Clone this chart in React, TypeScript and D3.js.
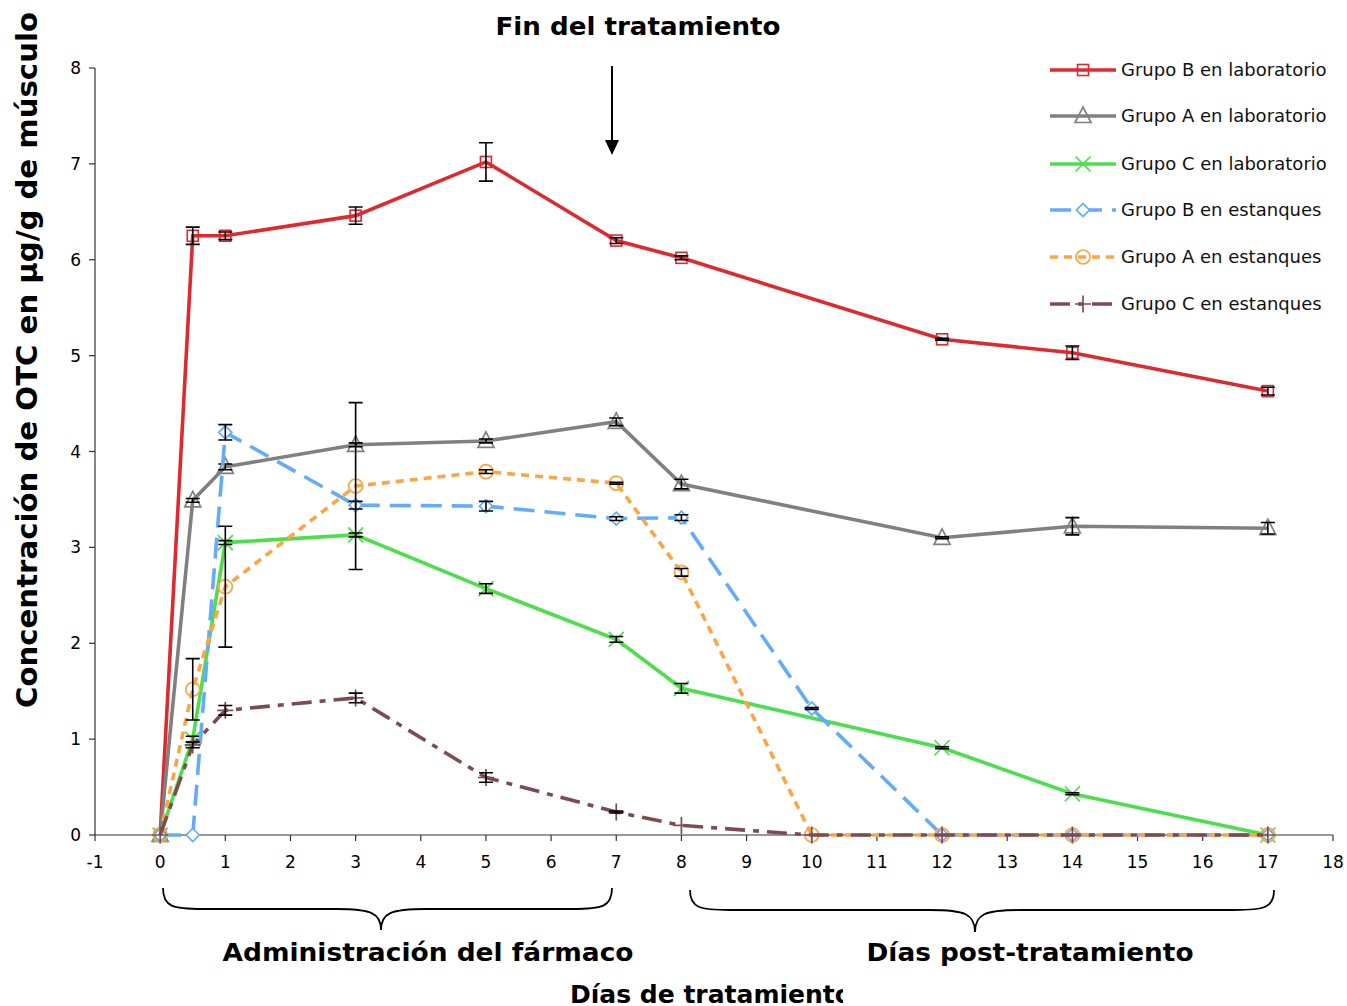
import * as d3 from "d3";
import { useEffect, useRef } from "react";

const days = [0, 0.5, 1, 3, 5, 7, 8, 10, 12, 14, 17];

const grupoBLab = [0, 6.25, 6.25, 6.46, 7.02, 6.2, 6.02, null, 5.17, 5.03, 4.63];
const grupoBLabErr = [0, 0.09, 0.04, 0.09, 0.2, 0.03, 0.02, null, 0.01, 0.07, 0.04];

const grupoALab = [0, 3.49, 3.84, 4.07, 4.11, 4.31, 3.66, null, 3.1, 3.22, 3.2];
const grupoALabErr = [0, 0.02, 0.03, 0.02, 0.02, 0.04, 0.05, null, 0.01, 0.09, 0.06];

const grupoCLab = [0, 1.0, 3.05, 3.13, 2.57, 2.04, 1.53, null, 0.91, 0.43, 0];
const grupoCLabErr = [0, 0.03, 0.02, 0.02, 0.05, 0.03, 0.05, null, 0.01, 0.01, 0];

const grupoBEst = [0, 0, 4.2, 3.44, 3.43, 3.3, 3.31, 1.32, 0, 0, 0];
const grupoBEstErr = [0, 0, 0.08, 0.04, 0.05, 0.02, 0.03, 0.01, 0, 0, 0];

const grupoAEst = [0, 1.52, 2.59, 3.64, 3.79, 3.67, 2.74, 0, 0, 0, 0];
const grupoAEstErr = [0, 0.32, 0.63, 0.87, 0.02, 0.01, 0.04, 0, 0, 0, 0];

const grupoCEst = [0, 0.94, 1.3, 1.43, 0.6, 0.24, 0.1, 0, 0, 0, 0];
const grupoCEstErr = [0, 0.03, 0.05, 0.05, 0.05, 0.01, 0, 0, 0, 0, 0];

const xTicks = d3.range(-1, 19);
const yTicks = d3.range(0, 9);

const series = [
  { name: "Grupo B en laboratorio", values: grupoBLab, err: grupoBLabErr, color: "#e0282f", dash: null, marker: "square" },
  { name: "Grupo A en laboratorio", values: grupoALab, err: grupoALabErr, color: "#808080", dash: null, marker: "triangle" },
  { name: "Grupo C en laboratorio", values: grupoCLab, err: grupoCLabErr, color: "#4cdf4c", dash: null, marker: "x" },
  { name: "Grupo B en estanques", values: grupoBEst, err: grupoBEstErr, color: "#62abff", dash: "21,10", marker: "diamond" },
  { name: "Grupo A en estanques", values: grupoAEst, err: grupoAEstErr, color: "#ffa442", dash: "8,6", marker: "circle" },
  { name: "Grupo C en estanques", values: grupoCEst, err: grupoCEstErr, color: "#7e4b50", dash: "20,8,6,8", marker: "plus" },
];

function drawMarker(g, type, cx, cy, color) {
  if (type === "square") {
    g.append("rect").attr("x", cx - 5.5).attr("y", cy - 5.5).attr("width", 11).attr("height", 11)
      .attr("fill", "none").attr("stroke", color).attr("stroke-width", 1.6);
  } else if (type === "triangle") {
    g.append("path").attr("d", `M${cx},${cy - 9}L${cx + 8},${cy + 6.5}L${cx - 8},${cy + 6.5}Z`)
      .attr("fill", "none").attr("stroke", color).attr("stroke-width", 1.7);
  } else if (type === "x") {
    g.append("path").attr("d", `M${cx - 7.5},${cy - 7.5}L${cx + 7.5},${cy + 7.5}M${cx + 7.5},${cy - 7.5}L${cx - 7.5},${cy + 7.5}`)
      .attr("stroke", color).attr("stroke-width", 1.7);
  } else if (type === "diamond") {
    g.append("path").attr("d", `M${cx},${cy - 6.5}L${cx + 6.5},${cy}L${cx},${cy + 6.5}L${cx - 6.5},${cy}Z`)
      .attr("fill", "white").attr("stroke", color).attr("stroke-width", 1.7);
  } else if (type === "circle") {
    g.append("circle").attr("cx", cx).attr("cy", cy).attr("r", 7)
      .attr("fill", "none").attr("stroke", color).attr("stroke-width", 1.7);
  } else if (type === "plus") {
    g.append("path").attr("d", `M${cx - 8},${cy}L${cx + 8},${cy}M${cx},${cy - 8.5}L${cx},${cy + 8.5}`)
      .attr("stroke", color).attr("stroke-width", 1.7);
  }
}

function bracePath(x0, x1, xc, y0, y1, y2) {
  return `M${x0},${y0} C${x0},${y1 - 2} ${x0 + 10},${y1} ${x0 + 40},${y1}` +
    ` L${xc - 45},${y1} C${xc - 10},${y1} ${xc},${y1 + 4} ${xc},${y2}` +
    ` C${xc},${y1 + 4} ${xc + 10},${y1} ${xc + 45},${y1}` +
    ` L${x1 - 40},${y1} C${x1 - 10},${y1} ${x1},${y1 - 2} ${x1},${y0}`;
}

export default function App() {
  const ref = useRef(null);

  useEffect(() => {
    const svg = d3.select(ref.current);
    svg.selectAll("*").remove();

    const font = "'DejaVu Sans', Verdana, sans-serif";
    const x = d3.scaleLinear().domain([-1, 18]).range([95, 1333]);
    const y = d3.scaleLinear().domain([0, 8]).range([835, 68]);

    // axes
    const axisColor = "#333";
    svg.append("line").attr("x1", x(-1)).attr("x2", x(18)).attr("y1", y(0)).attr("y2", y(0))
      .attr("stroke", axisColor).attr("stroke-width", 1.2);
    svg.append("line").attr("x1", x(-1)).attr("x2", x(-1)).attr("y1", y(0)).attr("y2", y(8))
      .attr("stroke", axisColor).attr("stroke-width", 1.2);

    xTicks.forEach((t) => {
      svg.append("line").attr("x1", x(t)).attr("x2", x(t)).attr("y1", y(0)).attr("y2", y(0) + 6)
        .attr("stroke", axisColor).attr("stroke-width", 1.2);
      svg.append("text").attr("x", x(t)).attr("y", 868).attr("text-anchor", "middle")
        .style("font-family", font).style("font-size", "17px").text(t);
    });
    yTicks.forEach((t) => {
      svg.append("line").attr("x1", x(-1) - 6).attr("x2", x(-1)).attr("y1", y(t)).attr("y2", y(t))
        .attr("stroke", axisColor).attr("stroke-width", 1.2);
      svg.append("text").attr("x", 81).attr("y", y(t) + 6).attr("text-anchor", "end")
        .style("font-family", font).style("font-size", "17px").text(t);
    });

    // series
    series.forEach((s) => {
      const pts = days.map((d, i) => ({ d, v: s.values[i], e: s.err[i] })).filter((p) => p.v !== null);
      const g = svg.append("g");
      const line = d3.line().x((p) => x(p.d)).y((p) => y(p.v));
      g.append("path").attr("d", line(pts)).attr("fill", "none")
        .attr("stroke", s.color).attr("stroke-width", 3.6)
        .attr("stroke-dasharray", s.dash);
      pts.forEach((p) => drawMarker(g, s.marker, x(p.d), y(p.v), s.color));
      pts.filter((p) => p.e > 0).forEach((p) => {
        const cx = x(p.d);
        const y1 = y(p.v + p.e);
        const y2 = y(p.v - p.e);
        g.append("path")
          .attr("d", `M${cx},${y1}L${cx},${y2}M${cx - 7},${y1}L${cx + 7},${y1}M${cx - 7},${y2}L${cx + 7},${y2}`)
          .attr("stroke", "#000").attr("stroke-width", 1.6).attr("fill", "none");
      });
    });

    // legend
    series.forEach((s, i) => {
      const ly = [70, 116, 164, 210, 257, 304][i];
      const g = svg.append("g");
      g.append("line").attr("x1", 1050).attr("x2", 1116).attr("y1", ly).attr("y2", ly)
        .attr("stroke", s.color).attr("stroke-width", 3.6).attr("stroke-dasharray", s.dash);
      drawMarker(g, s.marker, 1083, ly, s.color);
      g.append("text").attr("x", 1121).attr("y", ly + 6)
        .style("font-family", font).style("font-size", "18px").style("fill", "#111").text(s.name);
    });

    // arrow "Fin del tratamiento"
    svg.append("line").attr("x1", 612).attr("x2", 612).attr("y1", 66).attr("y2", 142)
      .attr("stroke", "#000").attr("stroke-width", 2);
    svg.append("path").attr("d", "M605,140L619,140L612,155Z").attr("fill", "#000");

    svg.append("text").attr("x", 638).attr("y", 35).attr("text-anchor", "middle")
      .attr("textLength", 285).attr("lengthAdjust", "spacingAndGlyphs")
      .style("font-family", font).style("font-size", "25px").style("font-weight", "bold")
      .text("Fin del tratamiento");

    // braces
    svg.append("path").attr("d", bracePath(163, 612, 381, 888, 909, 930))
      .attr("fill", "none").attr("stroke", "#000").attr("stroke-width", 1.8);
    svg.append("path").attr("d", bracePath(690, 1274, 975, 890, 910, 932))
      .attr("fill", "none").attr("stroke", "#000").attr("stroke-width", 1.8);

    svg.append("text").attr("x", 428).attr("y", 961).attr("text-anchor", "middle")
      .attr("textLength", 411).attr("lengthAdjust", "spacingAndGlyphs")
      .style("font-family", font).style("font-size", "25px").style("font-weight", "bold")
      .text("Administración del fármaco");
    svg.append("text").attr("x", 1030).attr("y", 961).attr("text-anchor", "middle")
      .attr("textLength", 327).attr("lengthAdjust", "spacingAndGlyphs")
      .style("font-family", font).style("font-size", "25px").style("font-weight", "bold")
      .text("Días post-tratamiento");

    // x axis title, cut on the right as in the original
    svg.append("clipPath").attr("id", "xTitleClip")
      .append("rect").attr("x", 0).attr("y", 960).attr("width", 843).attr("height", 60);
    svg.append("text").attr("x", 570).attr("y", 1003)
      .attr("textLength", 282).attr("lengthAdjust", "spacingAndGlyphs")
      .attr("clip-path", "url(#xTitleClip)")
      .style("font-family", font).style("font-size", "25px").style("font-weight", "bold")
      .text("Días de tratamiento");

    // y axis title
    svg.append("text").attr("transform", "translate(37,360) rotate(-90)").attr("text-anchor", "middle")
      .attr("textLength", 696).attr("lengthAdjust", "spacingAndGlyphs")
      .style("font-family", font).style("font-size", "29px").style("font-weight", "bold")
      .text("Concentración de OTC en µg/g de músculo");
  }, []);

  return (
    <svg
      ref={ref}
      width={1347}
      height={1006}
      style={{ position: "absolute", left: 0, top: 0, background: "white" }}
    />
  );
}
